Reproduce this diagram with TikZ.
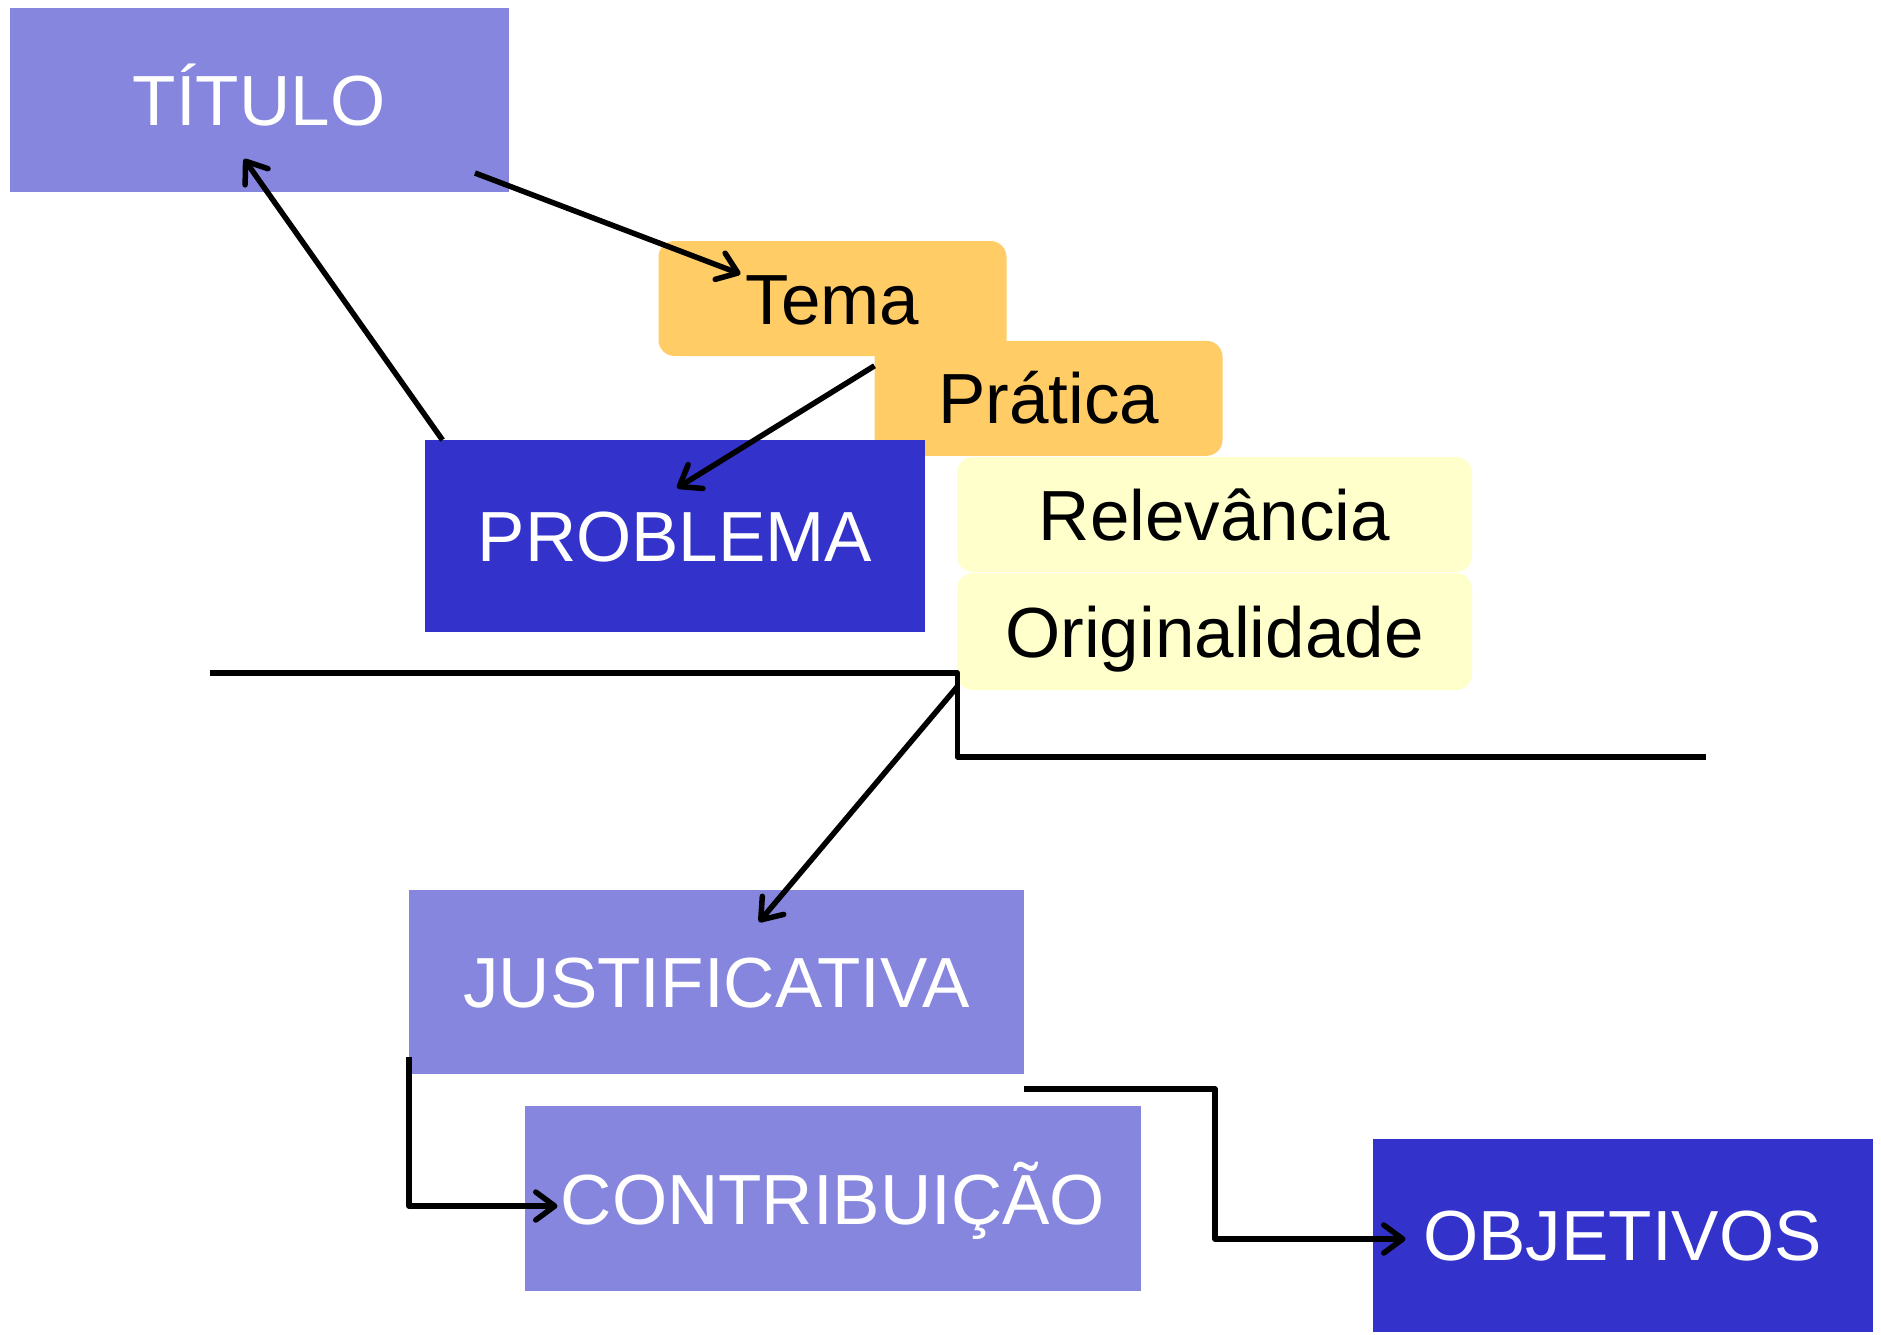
\documentclass[tikz,border=0pt]{standalone}
\usepackage{fontspec}
\setmainfont{Liberation Sans}
\usetikzlibrary{arrows.meta,calc}
\definecolor{lightblue}{HTML}{8686DE}
\definecolor{darkblue}{HTML}{3333CC}
\definecolor{orangebox}{HTML}{FFCC66}
\definecolor{yellowbox}{HTML}{FFFFCC}
\begin{document}
\begin{tikzpicture}[x=1pt,y=-1pt,
  box/.style={rectangle, inner sep=0pt, outer sep=0pt, text height=51pt, text depth=0pt, font=\fontsize{71}{85}\selectfont},
  lightbox/.style={box, fill=lightblue, text=white},
  darkbox/.style={box, fill=darkblue, text=white},
  orbox/.style={box, fill=orangebox, rounded corners=16pt, text=black},
  yebox/.style={box, fill=yellowbox, rounded corners=16pt, text=black},
  conn/.style={line width=5.5pt, line join=round, draw=black},
  arr/.style={conn, -{Straight Barb[length=19pt,width=28pt,line cap=round,line join=round]}}]
\useasboundingbox (0,0) rectangle (1881,1334);
\fill[white] (0,0) rectangle (1881,1334);

\node[lightbox, minimum width=499pt, minimum height=183.6pt] (titulo) at (259.1,100.2) {TÍTULO};
\node[orbox, minimum width=348pt, minimum height=115pt] (tema) at (832.5,298.5) {Tema};
\node[orbox, minimum width=348pt, minimum height=115pt] (pratica) at (1048.5,398.3) {Prática};
\node[yebox, minimum width=515pt, minimum height=115pt] (relevancia) at (1214.5,514.5) {Relevância};
\node[yebox, minimum width=515pt, minimum height=117pt] (originalidade) at (1214.5,631.5) {Originalidade};
\node[darkbox, minimum width=500pt, minimum height=192pt] (problema) at (675,536) {PROBLEMA};
\node[lightbox, minimum width=615pt, minimum height=184pt] (justificativa) at (716.5,982) {JUSTIFICATIVA};
\node[lightbox, minimum width=616pt, minimum height=185pt] (contribuicao) at (833,1198.5) {CONTRIBUIÇÃO};
\node[darkbox, minimum width=500pt, minimum height=193pt] (objetivos) at (1622.5,1235) {OBJETIVOS};

\coordinate (hl) at (210,673);
\coordinate (hr) at (1706,757);

\draw[arr] ($(titulo.south east)+(-33.6,-19)$) -- ($(tema.north west)+(82,33)$);
\draw[arr] ($(problema.north west)+(17.5,0)$) -- ($(titulo.south west)+(234.4,-33)$);
\draw[arr] ($(pratica.north west)+(0,25)$) -- ($(problema.north west)+(252,48)$);
\draw[conn] (hl) -- ($(originalidade.south west |- hl)+(0.5,0)$) -- ($(originalidade.south west |- hr)+(0.5,0)$) -- (hr);
\draw[arr] ($(originalidade.south west)+(0,-3)$) -- ($(justificativa.north west)+(350,32)$);
\draw[arr] ($(justificativa.south west)+(0,-17)$) |- ($(contribuicao.west)+(32.5,7.5)$);
\draw[arr] ($(justificativa.south east)+(0,15)$) -- ++(191,0) |- ($(objetivos.west)+(33,4)$);
\end{tikzpicture}
\end{document}
